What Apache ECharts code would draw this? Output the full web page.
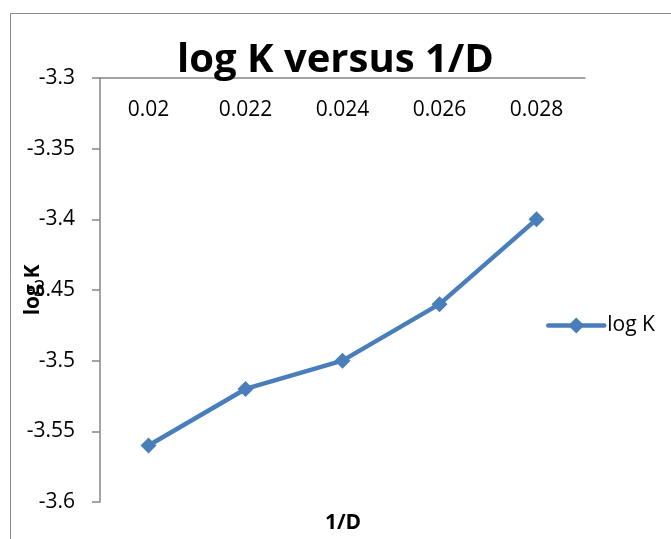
<!DOCTYPE html>
<html>
<head>
<meta charset="utf-8">
<script src="https://cdn.jsdelivr.net/npm/echarts@6/dist/echarts.min.js"></script>
<style>
  html, body { margin: 0; padding: 0; background: #fff; }
  #chart { width: 671px; height: 539px; }
</style>
</head>
<body>
<div id="chart"></div>
<script>
// Reciprocal diameter categories and the measured log K values
const categories = ['0.02', '0.022', '0.024', '0.026', '0.028'];
const logK = [-3.56, -3.52, -3.50, -3.46, -3.40];
const yMin = -3.6;
const yMax = -3.3;
const yStep = 0.05;

const FONT = '"Open Sans", Lato, sans-serif';
const BLUE = '#4a7ebb';
const AXIS_GREY = '#868686';

const chart = echarts.init(document.getElementById('chart'), null, { renderer: 'canvas' });
chart.setOption({
  backgroundColor: '#ffffff',
  animation: false,
  title: {
    text: 'log K versus 1/D',
    left: 'center',
    top: 36,
    textStyle: { fontFamily: FONT, fontSize: 40, fontWeight: 'bold', color: '#000' }
  },
  legend: {
    data: ['log K'],
    left: 541,
    top: 310,
    itemWidth: 56,
    itemHeight: 20,
    itemGap: 4,
    lineStyle: { width: 4.5, cap: 'round' },
    textStyle: { fontFamily: FONT, fontSize: 21, color: '#000', padding: [0, 0, 0, -2] }
  },
  grid: {
    left: 100, top: 78, width: 485, height: 424,
    containLabel: false,
    outerBoundsMode: 'none'
  },
  xAxis: {
    type: 'category',
    data: categories,
    position: 'top',
    boundaryGap: true,
    axisLine: { show: true, lineStyle: { color: AXIS_GREY, width: 1.5 } },
    axisTick: { show: false },
    axisLabel: { inside: true, margin: 22, fontFamily: FONT, fontSize: 21, color: '#000' },
    splitLine: { show: false }
  },
  yAxis: {
    type: 'value',
    min: yMin,
    max: yMax,
    interval: yStep,
    name: 'log K',
    nameLocation: 'middle',
    nameRotate: 90,
    nameGap: 56,
    nameMoveOverlap: false,
    nameTextStyle: { fontFamily: FONT, fontSize: 21, fontWeight: 'bold', color: '#000' },
    axisLine: { show: true, lineStyle: { color: AXIS_GREY, width: 1.5 } },
    axisTick: { show: true, length: 8, lineStyle: { color: AXIS_GREY, width: 1.5 } },
    axisLabel: {
      margin: 25,
      fontFamily: FONT, fontSize: 21, color: '#000',
      formatter: v => String(+v.toFixed(2))
    },
    splitLine: { show: false }
  },
  graphic: [
    {
      type: 'rect',
      shape: { x: 10.5, y: 13.5, width: 720, height: 600 },
      style: { fill: 'none', stroke: '#8a8a8a', lineWidth: 1 },
      silent: true
    },
    {
      type: 'text',
      x: 343,
      y: 523,
      style: {
        text: '1/D', fontFamily: FONT, fontSize: 21, fontWeight: 'bold', fill: '#000',
        align: 'center', verticalAlign: 'middle'
      }
    }
  ],
  series: [{
    name: 'log K',
    type: 'line',
    data: logK,
    symbol: 'diamond',
    symbolSize: 16,
    lineStyle: { color: BLUE, width: 4.5, cap: 'round', join: 'round' },
    itemStyle: { color: BLUE },
    z: 3
  }]
});
</script>
</body>
</html>
